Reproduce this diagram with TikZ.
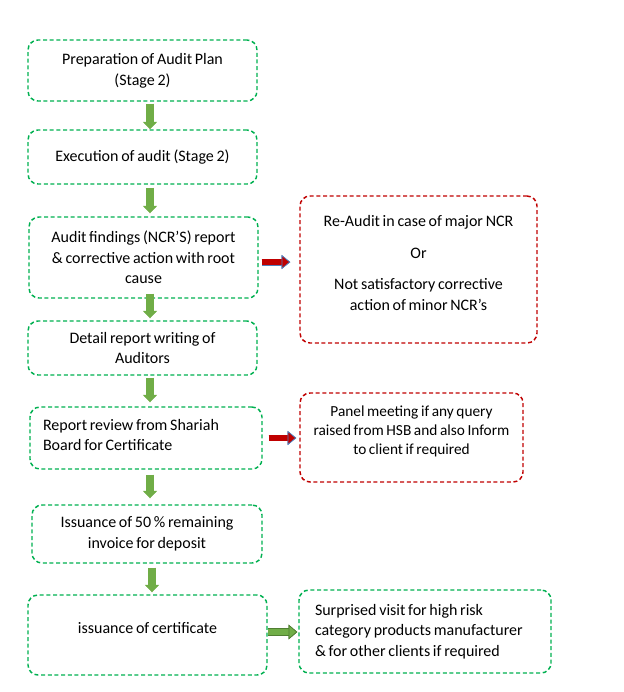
\documentclass[tikz,border=0pt]{standalone}
\usepackage{fontspec}
\setmainfont{Carlito}[WordSpace=0.75]
\usetikzlibrary{arrows.meta}
\definecolor{boxgreen}{RGB}{0,176,80}
\definecolor{boxred}{RGB}{192,0,0}
\definecolor{arrgreen}{RGB}{112,173,71}
\definecolor{arrgreendark}{RGB}{80,126,50}
\definecolor{arrred}{RGB}{192,0,0}
\definecolor{arrblue}{RGB}{79,129,189}
\tikzstyle{gbox}=[draw=boxgreen, rounded corners=7.5pt, line width=1.1pt, dash pattern=on 3pt off 2pt, align=center, inner sep=0pt, font=\fontsize{12}{15.5}\selectfont]
\tikzstyle{rbox}=[gbox, draw=boxred]
\tikzstyle{lbox}=[gbox, align=left, execute at begin node={\spaceskip=0pt\xspaceskip=0pt\relax}]
\tikzstyle{down}=[draw=arrgreen, line width=5.5pt, -{Triangle[width=10.5pt, length=5.5pt, line width=0.3pt, color=arrgreen, fill=arrgreen]}]
\tikzstyle{redarr}=[draw=arrred, line width=4.2pt, -{Triangle[width=10.5pt, length=6.5pt, line width=0.5pt, color=arrblue, fill=arrred]}, preaction={draw=arrblue, line width=5.2pt, -{Triangle[width=10.5pt, length=6.5pt, line width=0.5pt]}}]
\tikzstyle{grnarr}=[draw=arrgreen, line width=4.8pt, -{Triangle[width=11pt, length=6.5pt, line width=0.5pt, color=arrgreendark, fill=arrgreen]}, preaction={draw=arrgreendark, line width=5.8pt, -{Triangle[width=11pt, length=6.5pt, line width=0.5pt]}}]

\begin{document}
\begin{tikzpicture}[x=0.75pt, y=-0.75pt]
  \useasboundingbox (0,0) rectangle (624,692);
  % main column
  \node[gbox, minimum width=171.75pt, minimum height=45.75pt] (plan) at (142.5,70.5) {Preparation of Audit Plan\\(Stage 2)};
  \node[gbox, minimum width=171.75pt, minimum height=40.5pt] (exec) at (142.5,157) {Execution of audit (Stage 2)};
  \node[gbox, minimum width=171.75pt, minimum height=60.75pt] (find) at (143.5,257.5) {Audit findings (NCR’S) report\\\& corrective action with root\\cause};
  \node[gbox, minimum width=171.75pt, minimum height=40.5pt] (detail) at (142.5,348) {Detail report writing of\\Auditors};
  \node[lbox, text width=154.5pt, inner xsep=9.75pt, minimum height=46.5pt, text depth=20pt] (review) at (146,438) {Report review from Shariah\\Board for Certificate};
  \node[gbox, minimum width=172.5pt, minimum height=43.5pt] (invoice) at (147,534) {Issuance of 50\,\% remaining\\invoice for deposit};
  \node[gbox, minimum width=179.25pt, minimum height=60pt, text depth=10.5pt] (cert) at (147.5,635) {issuance of certificate};
  % side boxes
  \node[rbox, minimum width=177.75pt, minimum height=110.25pt, text depth=10pt] (reaudit) at (418.5,269.5) {Re-Audit in case of major NCR\\[8pt]Or\\[8pt]Not satisfactory corrective\\action of minor NCR’s};
  \node[rbox, font=\fontsize{11.5}{14.3}\selectfont, minimum width=167.25pt, minimum height=66.75pt, text depth=11pt] (panel) at (411.5,437.5) {Panel meeting if any query\\raised from HSB and also Inform\\to client if required};
  \node[lbox, text width=165pt, inner xsep=12pt, minimum height=62.25pt] (visit) at (425,631.5) {Surprised visit for high risk\\category products manufacturer\\\& for other clients if required};

  \coordinate (ax) at (150,0);
  \draw[down, shorten <=1.5pt] (plan.south -| ax) -- (exec.north -| ax);
  \draw[down, shorten <=2.25pt, shorten >=2.25pt] (exec.south -| ax) -- (find.north -| ax);
  \draw[down, shorten <=-3.75pt, shorten >=1.5pt] (find.south -| ax) -- (detail.north -| ax);
  \draw[down, shorten <=1.5pt, shorten >=3pt] (detail.south -| ax) -- (review.north -| ax);
  \draw[down, shorten <=3.75pt, shorten >=4.5pt] (review.south -| ax) -- (invoice.north -| ax);
  \draw[down, shorten <=3pt, shorten >=1.5pt] ([xshift=1.5pt]invoice.south -| ax) -- ([xshift=1.5pt]cert.north -| ax);

  \draw[redarr, shorten <=2.25pt, shorten >=6.75pt] ([yshift=-3.4pt]find.east) -- ([yshift=-3.4pt]find.east -| reaudit.west);
  \draw[redarr, shorten <=4.5pt, shorten >=2.25pt] (review.east) -- (review.east -| panel.west);
  \draw[grnarr, shorten >=0.75pt] ([yshift=2.25pt]cert.east) -- ([yshift=2.25pt]cert.east -| visit.west);
\end{tikzpicture}
\end{document}
